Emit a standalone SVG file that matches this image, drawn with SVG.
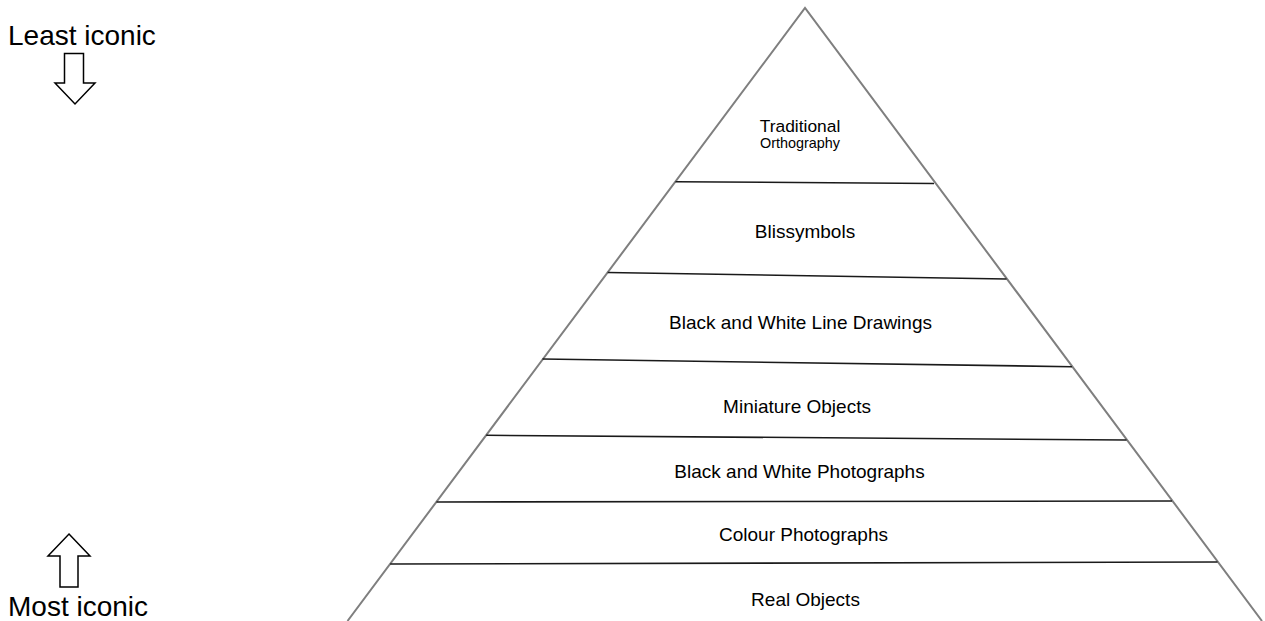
<svg xmlns="http://www.w3.org/2000/svg" width="1265" height="621" viewBox="0 0 1265 621">
  <style>
    .edge { fill: none; stroke: #7f7f7f; stroke-width: 2; }
    .layer { stroke: #1a1a1a; stroke-width: 1.6; fill: none; }
    .lbl { font-family: "Liberation Sans", Arial, sans-serif; font-size: 19px; fill: #000; text-anchor: middle; }
    .side { font-family: "Liberation Sans", Arial, sans-serif; font-size: 28px; fill: #000; }
    .arrow { fill: #fff; stroke: #000; stroke-width: 1.5; stroke-linejoin: miter; }
  </style>
  <rect width="1265" height="621" fill="#fff"/>

  <g id="pyramid">
    <polyline class="edge" points="347.5,621 805,8 1262,621"/>
  </g>

  <g id="connectors">
    <line class="layer" x1="675.5" y1="181.7" x2="934" y2="183.5"/>
    <line class="layer" x1="607.7" y1="272.5" x2="1006.5" y2="279"/>
    <line class="layer" x1="542.5" y1="359" x2="1072" y2="366.7"/>
    <line class="layer" x1="486.2" y1="435.3" x2="1126.5" y2="440"/>
    <line class="layer" x1="436.5" y1="502" x2="1172" y2="501"/>
    <line class="layer" x1="390.2" y1="564" x2="1217.5" y2="562"/>
  </g>

  <g id="traditional-orthography">
    <text class="lbl" x="800" y="131.5" style="font-size:17.4px">Traditional</text>
    <text class="lbl" x="800" y="148" style="font-size:14.4px">Orthography</text>
  </g>
  <g id="blissymbols">
    <text class="lbl" x="805" y="237.5">Blissymbols</text>
  </g>
  <g id="line-drawings">
    <text class="lbl" x="800.5" y="329">Black and White Line Drawings</text>
  </g>
  <g id="miniature-objects">
    <text class="lbl" x="797" y="412.7">Miniature Objects</text>
  </g>
  <g id="bw-photographs">
    <text class="lbl" x="799.5" y="478">Black and White Photographs</text>
  </g>
  <g id="colour-photographs">
    <text class="lbl" x="803.5" y="540.7">Colour Photographs</text>
  </g>
  <g id="real-objects">
    <text class="lbl" x="805.5" y="605.7">Real Objects</text>
  </g>

  <g id="least-iconic">
    <text class="side" x="8" y="45">Least iconic</text>
    <polygon class="arrow" points="64.5,53.5 83.5,53.5 83.5,83 95,83 75,104 55,83 64.5,83"/>
  </g>
  <g id="most-iconic">
    <polygon class="arrow" points="69,534 90,556 78,556 78,587 60,587 60,556 48,556"/>
    <text class="side" x="8" y="616">Most iconic</text>
  </g>
</svg>
